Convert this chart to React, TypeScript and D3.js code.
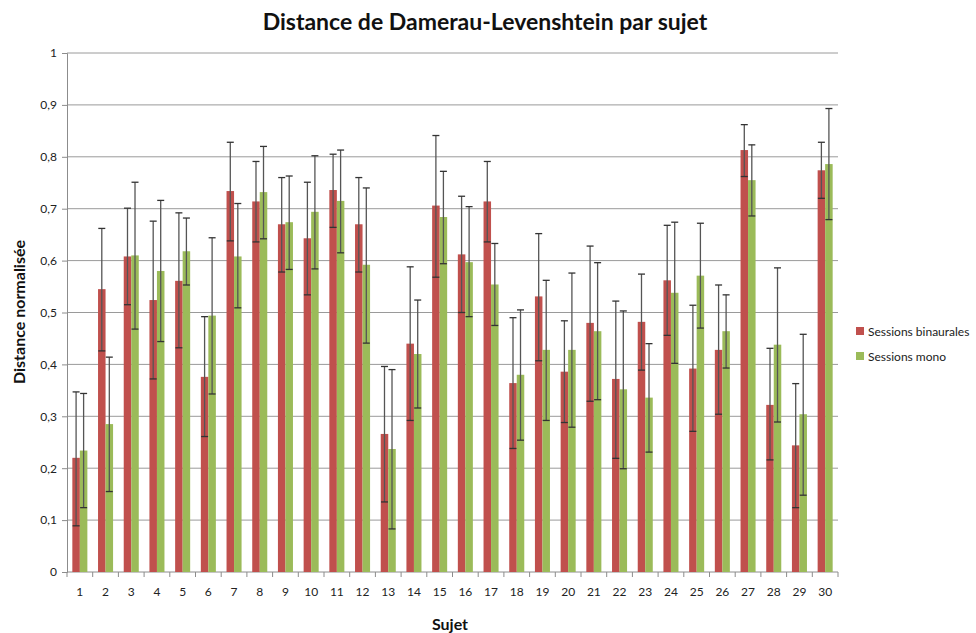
import { useEffect, useRef } from "react";
import * as d3 from "d3";

// subjects 1..30
const subjects = d3.range(1, 31).map(String);
const seriesNames = ["Sessions binaurales", "Sessions mono"];
const seriesColors = ["#C0504D", "#9BBB59"];

// mean distances
const binaural = [0.22, 0.545, 0.608, 0.524, 0.561, 0.376, 0.734, 0.714, 0.67, 0.643,
  0.736, 0.67, 0.266, 0.44, 0.706, 0.612, 0.714, 0.364, 0.531, 0.386,
  0.48, 0.372, 0.482, 0.562, 0.392, 0.428, 0.813, 0.322, 0.244, 0.774];
const mono = [0.234, 0.285, 0.61, 0.58, 0.618, 0.494, 0.608, 0.732, 0.674, 0.694,
  0.715, 0.592, 0.237, 0.42, 0.684, 0.597, 0.554, 0.38, 0.428, 0.428,
  0.464, 0.352, 0.336, 0.538, 0.571, 0.464, 0.755, 0.438, 0.304, 0.786];

// error bar ends (upper / lower)
const binauralHigh = [0.347, 0.662, 0.701, 0.676, 0.692, 0.492, 0.828, 0.791, 0.76, 0.751,
  0.805, 0.76, 0.396, 0.588, 0.841, 0.724, 0.791, 0.49, 0.652, 0.484,
  0.628, 0.522, 0.574, 0.668, 0.514, 0.553, 0.862, 0.431, 0.363, 0.828];
const binauralLow = [0.089, 0.426, 0.515, 0.372, 0.432, 0.261, 0.638, 0.636, 0.578, 0.534,
  0.664, 0.578, 0.135, 0.292, 0.568, 0.5, 0.636, 0.238, 0.407, 0.288,
  0.329, 0.219, 0.389, 0.456, 0.271, 0.304, 0.762, 0.216, 0.124, 0.72];
const monoHigh = [0.344, 0.414, 0.751, 0.716, 0.682, 0.644, 0.71, 0.82, 0.763, 0.802,
  0.813, 0.74, 0.39, 0.524, 0.772, 0.704, 0.633, 0.505, 0.562, 0.576,
  0.596, 0.503, 0.44, 0.674, 0.672, 0.534, 0.823, 0.586, 0.458, 0.893];
const monoLow = [0.124, 0.155, 0.468, 0.444, 0.553, 0.343, 0.509, 0.642, 0.583, 0.584,
  0.615, 0.441, 0.083, 0.316, 0.594, 0.492, 0.475, 0.254, 0.292, 0.279,
  0.332, 0.199, 0.231, 0.402, 0.47, 0.393, 0.686, 0.289, 0.148, 0.679];

const yTicks = d3.range(0, 11).map((d) => d / 10);

export default function App() {
  const ref = useRef<SVGSVGElement>(null);

  useEffect(() => {
    const svg = d3.select(ref.current);
    svg.selectAll("*").remove();

    const width = 976;
    const height = 633;
    const margin = { top: 53, right: 138, bottom: 61, left: 67 };
    const font = "Lato, 'Open Sans', sans-serif";

    const x0 = d3.scaleBand<string>()
      .domain(subjects)
      .range([margin.left, width - margin.right]);
    const x1 = d3.scaleBand<string>()
      .domain(seriesNames)
      .range([0, x0.bandwidth()])
      .paddingOuter(0.71);
    const y = d3.scaleLinear()
      .domain([0, 1])
      .range([height - margin.bottom, margin.top]);

    // gridlines
    svg.append("g")
      .selectAll("line")
      .data(yTicks.slice(1))
      .join("line")
      .attr("x1", margin.left)
      .attr("x2", width - margin.right)
      .attr("y1", (d) => y(d))
      .attr("y2", (d) => y(d))
      .attr("stroke", "#9a9a9a")
      .attr("stroke-width", 1);

    // y axis
    svg.append("g")
      .attr("transform", `translate(${margin.left},0)`)
      .call(d3.axisLeft(y).tickValues(yTicks).tickSize(5).tickFormat((d) => String(d).replace(".", ",")))
      .call((g) => g.select(".domain").attr("stroke", "#8c8c8c"))
      .call((g) => g.selectAll("line").attr("stroke", "#8c8c8c"))
      .call((g) => g.selectAll("text").attr("fill", "#222").style("font-family", font).style("font-size", "12px").attr("x", -10));

    // x axis, ticks between categories
    const xAxis = svg.append("g").attr("transform", `translate(0,${y(0)})`);
    xAxis.append("line")
      .attr("x1", margin.left)
      .attr("x2", width - margin.right)
      .attr("stroke", "#8c8c8c");
    xAxis.selectAll("line.tick")
      .data(subjects.concat(["end"]))
      .join("line")
      .attr("class", "tick")
      .attr("x1", (d, i) => margin.left + i * x0.step())
      .attr("x2", (d, i) => margin.left + i * x0.step())
      .attr("y2", 5)
      .attr("stroke", "#8c8c8c");
    xAxis.selectAll("text")
      .data(subjects)
      .join("text")
      .attr("x", (d) => (x0(d) ?? 0) + x0.bandwidth() / 2)
      .attr("y", 24)
      .attr("text-anchor", "middle")
      .attr("fill", "#222")
      .style("font-family", font)
      .style("font-size", "12px")
      .text((d) => d);

    const series = [
      { name: seriesNames[0], values: binaural, hi: binauralHigh, lo: binauralLow, color: seriesColors[0] },
      { name: seriesNames[1], values: mono, hi: monoHigh, lo: monoLow, color: seriesColors[1] },
    ];

    // bars
    series.forEach((s) => {
      svg.append("g")
        .selectAll("rect")
        .data(subjects)
        .join("rect")
        .attr("x", (d) => (x0(d) ?? 0) + (x1(s.name) ?? 0))
        .attr("width", x1.bandwidth())
        .attr("y", (d, i) => y(s.values[i]))
        .attr("height", (d, i) => y(0) - y(s.values[i]))
        .attr("fill", s.color);
    });

    // error bars
    series.forEach((s) => {
      const g = svg.append("g")
        .selectAll("g")
        .data(subjects)
        .join("g")
        .attr("transform", (d) => `translate(${(x0(d) ?? 0) + (x1(s.name) ?? 0) + x1.bandwidth() / 2},0)`);
      g.append("line")
        .attr("y1", (d, i) => y(s.hi[i]))
        .attr("y2", (d, i) => y(s.lo[i]))
        .attr("stroke", "#555")
        .attr("stroke-width", 1.3);
      [s.hi, s.lo].forEach((arr) => {
        g.append("line")
          .attr("x1", -3.5)
          .attr("x2", 3.5)
          .attr("y1", (d, i) => y(arr[i]))
          .attr("y2", (d, i) => y(arr[i]))
          .attr("stroke", "#333")
          .attr("stroke-width", 1.3);
      });
    });

    // title
    svg.append("text")
      .attr("x", 485)
      .attr("y", 30)
      .attr("text-anchor", "middle")
      .attr("fill", "#111")
      .style("font-family", font)
      .style("font-size", "23px")
      .style("font-weight", "bold")
      .text("Distance de Damerau-Levenshtein par sujet");

    // axis labels
    svg.append("text")
      .attr("transform", `translate(25,312) rotate(-90)`)
      .attr("text-anchor", "middle")
      .attr("fill", "#111")
      .style("font-family", font)
      .style("font-size", "16px")
      .style("font-weight", "bold")
      .text("Distance normalisée");
    svg.append("text")
      .attr("x", 450)
      .attr("y", 630)
      .attr("text-anchor", "middle")
      .attr("fill", "#111")
      .style("font-family", font)
      .style("font-size", "16px")
      .style("font-weight", "bold")
      .text("Sujet");

    // legend
    const legend = svg.append("g").attr("transform", "translate(856,327)");
    series.forEach((s, i) => {
      legend.append("rect")
        .attr("y", i * 25)
        .attr("width", 8)
        .attr("height", 8)
        .attr("fill", s.color);
      legend.append("text")
        .attr("x", 12)
        .attr("y", i * 25 + 9)
        .attr("fill", "#222")
        .style("font-family", font)
        .style("font-size", "12px")
        .text(s.name);
    });
  }, []);

  return (
    <svg
      ref={ref}
      width={976}
      height={633}
      style={{ position: "absolute", left: 0, top: 0, background: "#fff" }}
    />
  );
}
